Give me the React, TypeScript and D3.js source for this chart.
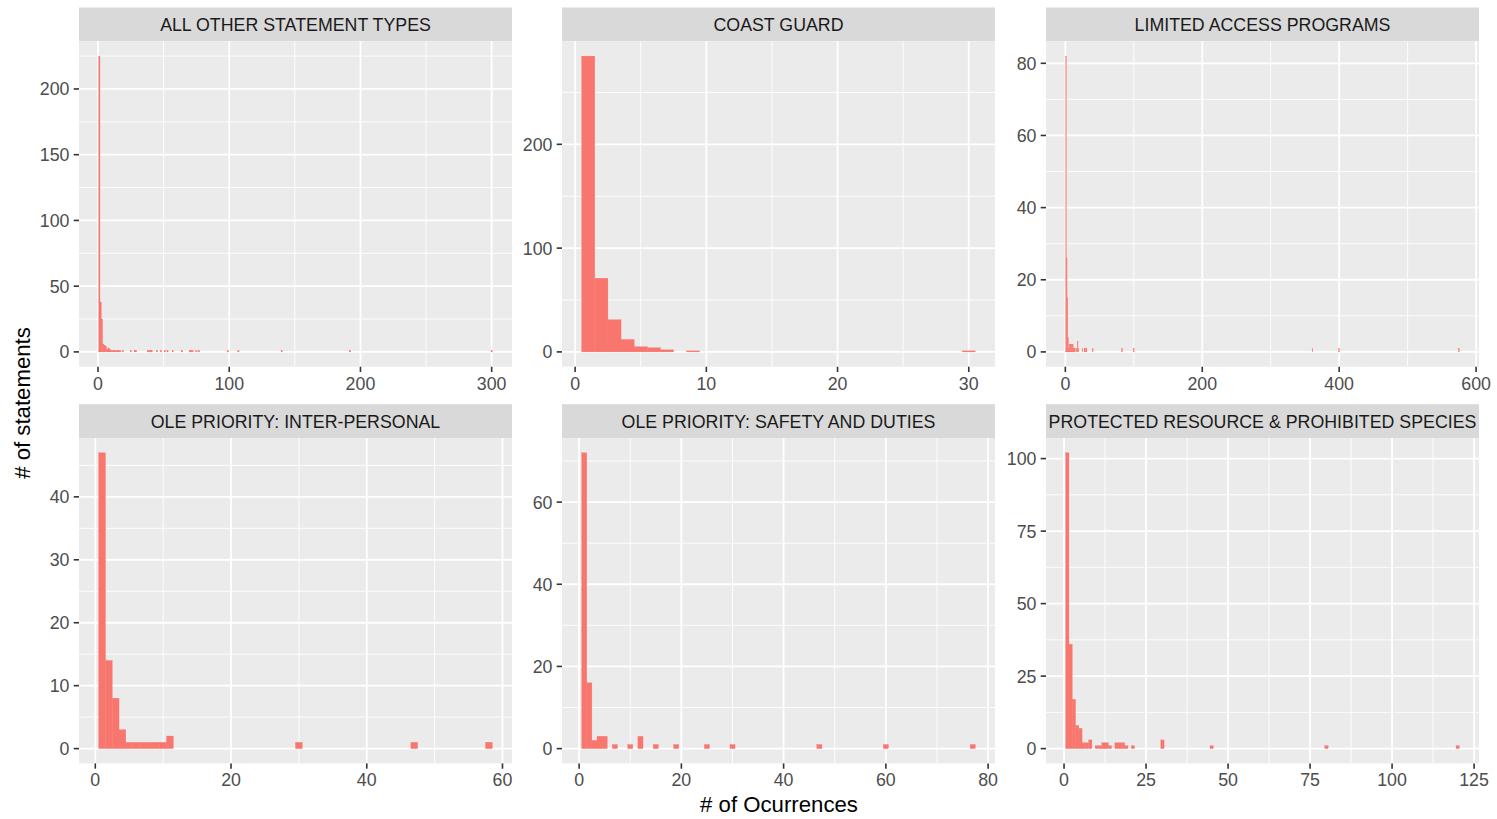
import React from "react";
import * as d3 from "d3";

const panelTitles = [
  "ALL OTHER STATEMENT TYPES",
  "COAST GUARD",
  "LIMITED ACCESS PROGRAMS",
  "OLE PRIORITY: INTER-PERSONAL",
  "OLE PRIORITY: SAFETY AND DUTIES",
  "PROTECTED RESOURCE & PROHIBITED SPECIES",
];

// bin centres (binwidth 1) and number of statements per bin
const allOtherOccurrences = [1, 2, 3, 4, 5, 6, 7, 8, 9, 10, 11, 12, 13, 14, 15, 16, 17, 19, 25, 28, 29, 38, 39, 40, 41, 45, 48, 51, 53, 57, 64, 70, 71, 72, 75, 77, 99, 107, 140, 192, 300];
const allOtherCounts = [225, 38, 25, 6, 5, 4, 2, 3, 2, 1, 1, 1, 1, 1, 1, 1, 1, 1, 1, 1, 1, 1, 1, 1, 1, 1, 1, 1, 1, 1, 1, 1, 1, 1, 1, 1, 1, 1, 1, 1, 1];

const coastGuardOccurrences = [1, 2, 3, 4, 5, 6, 7, 9, 30];
const coastGuardCounts = [285, 71, 31, 12, 5, 4, 2, 1, 1];

const limitedAccessOccurrences = [1, 2, 3, 4, 5, 6, 7, 8, 9, 10, 11, 12, 13, 14, 16, 18, 19, 25, 28, 30, 31, 40, 83, 100, 361, 400, 575];
const limitedAccessCounts = [82, 26, 15, 4, 1, 2, 2, 2, 2, 2, 2, 1, 1, 1, 1, 3, 1, 1, 1, 1, 1, 1, 1, 1, 1, 1, 1];

const interPersonalOccurrences = [1, 2, 3, 4, 5, 6, 7, 8, 9, 10, 11, 30, 47, 58];
const interPersonalCounts = [47, 14, 8, 3, 1, 1, 1, 1, 1, 1, 2, 1, 1, 1];

const safetyOccurrences = [1, 2, 3, 4, 5, 7, 10, 12, 15, 19, 25, 30, 47, 60, 77];
const safetyCounts = [72, 16, 2, 3, 3, 1, 1, 3, 1, 1, 1, 1, 1, 1, 1];

const protectedOccurrences = [1, 2, 3, 4, 5, 6, 7, 8, 10, 11, 12, 13, 14, 16, 17, 18, 19, 21, 30, 45, 80, 120];
const protectedCounts = [102, 36, 17, 8, 7, 2, 2, 3, 1, 1, 2, 2, 1, 2, 2, 2, 1, 1, 3, 1, 1, 1];

const xTicks = [
  [0, 100, 200, 300],
  [0, 10, 20, 30],
  [0, 200, 400, 600],
  [0, 20, 40, 60],
  [0, 20, 40, 60, 80],
  [0, 25, 50, 75, 100, 125],
];
const yTicks = [
  [0, 50, 100, 150, 200],
  [0, 100, 200],
  [0, 20, 40, 60, 80],
  [0, 10, 20, 30, 40],
  [0, 20, 40, 60],
  [0, 25, 50, 75, 100],
];

const occurrences = [allOtherOccurrences, coastGuardOccurrences, limitedAccessOccurrences, interPersonalOccurrences, safetyOccurrences, protectedOccurrences];
const counts = [allOtherCounts, coastGuardCounts, limitedAccessCounts, interPersonalCounts, safetyCounts, protectedCounts];

const W = 1497;
const H = 819;
const panelLefts = [79, 562, 1046];
const panelW = 433;
const stripTops = [7.5, 404.2];
const stripH = 33.8;
const panelH = 325.4;
const font = "'Liberation Sans', Arial, sans-serif";
const fill = "#F8766D";
const smallFont = 17.8;
const titleFont = 22.2;

function minorBreaks(ticks: number[], domain: number[]) {
  const step = ticks[1] - ticks[0];
  const out = [ticks[0] - step / 2, ...ticks.map((t) => t + step / 2)];
  return out.filter((v) => v >= domain[0] && v <= domain[1]);
}

function Panel({ i }: { i: number }) {
  const left = panelLefts[i % 3];
  const stripTop = stripTops[Math.floor(i / 3)];
  const top = stripTop + stripH;
  const bottom = top + panelH;

  const vals = occurrences[i];
  const cnts = counts[i];
  const lo = 0.5;
  const hi = d3.max(vals)! + 0.5;
  const xr = hi - lo;
  const xDomain = [lo - 0.05 * xr, hi + 0.05 * xr];
  const yMax = d3.max(cnts)!;
  const yDomain = [-0.05 * yMax, 1.05 * yMax];

  const x = d3.scaleLinear().domain(xDomain).range([left, left + panelW]);
  const y = d3.scaleLinear().domain(yDomain).range([bottom, top]);

  return (
    <g>
      <rect x={left} y={stripTop} width={panelW} height={stripH} fill="#D9D9D9" />
      <text
        x={left + panelW / 2}
        y={stripTop + stripH / 2 + 0.5}
        dy="0.36em"
        textAnchor="middle"
        fontSize={smallFont}
        fill="#1A1A1A"
        fontFamily={font}
      >
        {panelTitles[i]}
      </text>
      <rect x={left} y={top} width={panelW} height={panelH} fill="#EBEBEB" />
      {minorBreaks(xTicks[i], xDomain).map((v) => (
        <line key={"xm" + v} x1={x(v)} x2={x(v)} y1={top} y2={bottom} stroke="#fff" strokeWidth={0.9} />
      ))}
      {minorBreaks(yTicks[i], yDomain).map((v) => (
        <line key={"ym" + v} x1={left} x2={left + panelW} y1={y(v)} y2={y(v)} stroke="#fff" strokeWidth={0.9} />
      ))}
      {xTicks[i].map((v) => (
        <line key={"xg" + v} x1={x(v)} x2={x(v)} y1={top} y2={bottom} stroke="#fff" strokeWidth={1.8} />
      ))}
      {yTicks[i].map((v) => (
        <line key={"yg" + v} x1={left} x2={left + panelW} y1={y(v)} y2={y(v)} stroke="#fff" strokeWidth={1.8} />
      ))}
      {vals.map((v, k) => (
        <rect
          key={"b" + k}
          x={x(v - 0.5)}
          width={x(v + 0.5) - x(v - 0.5)}
          y={y(cnts[k])}
          height={y(0) - y(cnts[k])}
          fill={fill}
          stroke={fill}
          strokeWidth={0.3}
        />
      ))}
      {xTicks[i].map((v) => (
        <g key={"xt" + v}>
          <line x1={x(v)} x2={x(v)} y1={bottom} y2={bottom + 5.3} stroke="#333" strokeWidth={1.6} />
          <text x={x(v)} y={bottom + 23} textAnchor="middle" fontSize={smallFont} fill="#4D4D4D" fontFamily={font}>
            {v}
          </text>
        </g>
      ))}
      {yTicks[i].map((v) => (
        <g key={"yt" + v}>
          <line x1={left - 5.3} x2={left} y1={y(v)} y2={y(v)} stroke="#333" strokeWidth={1.6} />
          <text x={left - 9.5} y={y(v)} dy="0.36em" textAnchor="end" fontSize={smallFont} fill="#4D4D4D" fontFamily={font}>
            {v}
          </text>
        </g>
      ))}
    </g>
  );
}

export default function App() {
  return (
    <svg
      width={W}
      height={H}
      style={{ position: "absolute", left: 0, top: 0, display: "block" }}
    >
      <rect width={W} height={H} fill="#fff" />
      {panelTitles.map((_, i) => (
        <Panel key={i} i={i} />
      ))}
      <text x={779} y={812} textAnchor="middle" fontSize={titleFont} fill="#000" fontFamily={font}>
        # of Ocurrences
      </text>
      <text
        transform="translate(30,403) rotate(-90)"
        textAnchor="middle"
        fontSize={titleFont}
        fill="#000"
        fontFamily={font}
      >
        # of statements
      </text>
    </svg>
  );
}
